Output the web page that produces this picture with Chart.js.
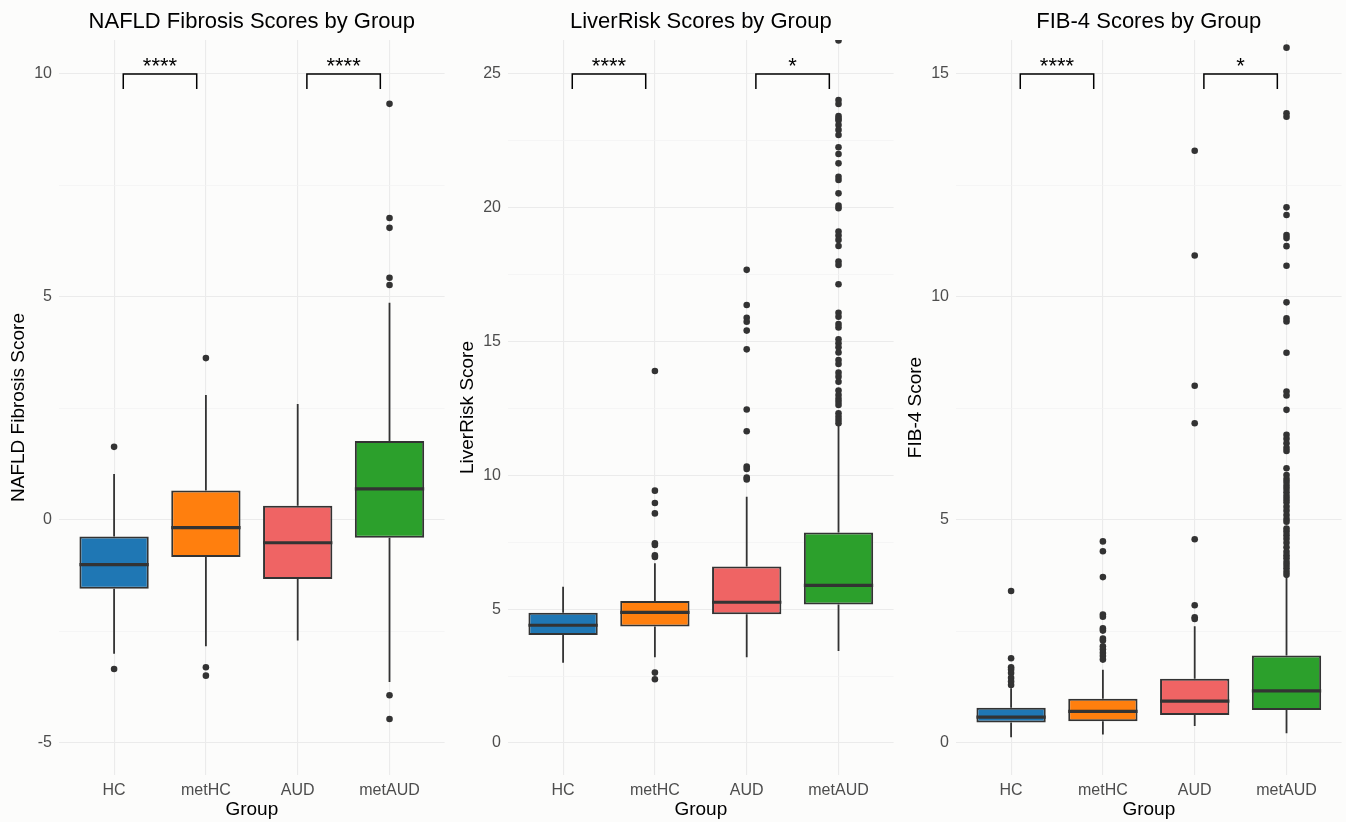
<!DOCTYPE html>
<html><head><meta charset="utf-8">
<script src="https://cdn.jsdelivr.net/npm/chart.js@4.4.1/dist/chart.umd.min.js"></script>
<style>
html,body{margin:0;padding:0;background:#FCFCFB;width:1346px;height:822px;overflow:hidden;}
canvas{position:absolute;top:0;}
</style></head><body>
<canvas id="c1" width="449" height="822" style="left:0px"></canvas>
<canvas id="c2" width="449" height="822" style="left:449px"></canvas>
<canvas id="c3" width="449" height="822" style="left:897px"></canvas>
<script>
// ---------- shared ----------
const groups = ['HC', 'metHC', 'AUD', 'metAUD'];
const groupColors = ['#1F77B4', '#FF7F0E', '#EF6464', '#2CA02C'];

// ---------- NAFLD Fibrosis ----------
const nafldLow  = [-3.00, -2.83, -2.70, -3.63];
const nafldQ1   = [-1.54, -0.83, -1.32, -0.40];
const nafldMed  = [-1.00, -0.17, -0.51, 0.70];
const nafldQ3   = [-0.37, 0.66, 0.32, 1.77];
const nafldHigh = [1.03, 2.80, 2.60, 4.87];
const nafldOut  = [
  [1.64, -3.34],
  [3.63, -3.30, -3.49],
  [],
  [9.33, 6.77, 6.55, 5.43, 5.27, -3.93, -4.46]
];
const nafldTicks = [-5, 0, 5, 10];
const nafldMinor = [-2.5, 2.5, 7.5];
const nafldBrackets = [{a: 0, b: 1, label: '****'}, {a: 2, b: 3, label: '****'}];
const nafldBracketY = 10;

// ---------- LiverRisk ----------
const lrLow  = [3.00, 3.20, 3.20, 3.44];
const lrQ1   = [4.04, 4.35, 4.81, 5.18];
const lrMed  = [4.40, 4.88, 5.26, 5.89];
const lrQ3   = [4.87, 5.31, 6.60, 7.87];
const lrHigh = [5.84, 6.72, 9.20, 11.85];
const lrOut  = [
  [],
  [13.90, 9.43, 8.97, 8.58, 7.46, 7.40, 7.01, 6.95, 2.63, 2.38],
  [17.68, 16.37, 15.89, 15.74, 15.41, 14.71, 12.46, 11.65, 10.33, 10.24, 9.92, 9.85],
  [26.25, 24.03, 23.88, 23.43, 23.34, 23.26, 23.09, 22.91, 22.72, 22.26, 22.01, 21.66,
   21.16, 21.04, 20.54, 20.08, 19.98, 19.11, 18.96, 18.80, 18.57, 17.99, 17.86, 17.14,
   16.08, 15.93, 15.66, 15.53, 15.09, 14.94, 14.79, 14.59, 14.31, 14.16, 13.84, 13.69,
   13.50, 13.17, 13.00, 12.86, 12.75, 12.63, 12.32, 12.19, 12.07, 11.95]
];
const lrTicks = [0, 5, 10, 15, 20, 25];
const lrMinor = [2.5, 7.5, 12.5, 17.5, 22.5];
const lrBrackets = [{a: 0, b: 1, label: '****'}, {a: 2, b: 3, label: '*'}];
const lrBracketY = 25;

// ---------- FIB-4 ----------
const fibLow  = [0.13, 0.19, 0.38, 0.22];
const fibQ1   = [0.46, 0.49, 0.63, 0.74];
const fibMed  = [0.58, 0.71, 0.94, 1.17];
const fibQ3   = [0.79, 0.99, 1.44, 1.96];
const fibHigh = [1.23, 1.64, 2.62, 3.72];
const fibOut  = [
  [3.41, 1.90, 1.70, 1.65, 1.57, 1.46, 1.38, 1.30],
  [4.52, 4.30, 3.72, 2.88, 2.83, 2.57, 2.52, 2.34, 2.30, 2.17, 2.10, 2.02, 1.95, 1.87],
  [13.28, 10.93, 8.01, 7.17, 4.57, 3.09, 2.82, 2.78],
  [15.59, 14.12, 14.04, 12.01, 11.84, 11.39, 11.32, 11.14, 10.70, 9.88, 9.52, 9.45,
   8.75, 7.88, 7.79, 7.47, 6.91, 6.82, 6.72, 6.62, 6.55, 6.16, 6.01, 5.92, 5.85, 5.77,
   5.70, 5.62, 5.54, 5.47, 5.40, 5.30, 5.21, 5.11, 5.02, 4.96, 4.81, 4.74, 4.66, 4.58,
   4.49, 4.39, 4.29, 4.21, 4.14, 4.06, 3.99, 3.92, 3.84, 3.77]
];
const fibTicks = [0, 5, 10, 15];
const fibMinor = [2.5, 7.5, 12.5];
const fibBrackets = [{a: 0, b: 1, label: '****'}, {a: 2, b: 3, label: '*'}];
const fibBracketY = 15;

// ---------- rendering ----------
Chart.defaults.font.family = "'Liberation Sans', Arial, Helvetica, sans-serif";
const INK = '#333333';

function makePlugin(st) {
  return {
    id: 'boxExtras',
    beforeDatasetsDraw(chart) {
      const {ctx, scales: {x, y}} = chart;
      ctx.save();
      ctx.strokeStyle = INK; ctx.lineWidth = 1.8;
      st.low.forEach((lo, i) => {
        const px = x.getPixelForValue(i + 1);
        ctx.beginPath();
        ctx.moveTo(px, y.getPixelForValue(lo)); ctx.lineTo(px, y.getPixelForValue(st.q1[i]));
        ctx.moveTo(px, y.getPixelForValue(st.q3[i])); ctx.lineTo(px, y.getPixelForValue(st.high[i]));
        ctx.stroke();
      });
      ctx.restore();
    },
    afterDatasetDraw(chart, args) {
      if (args.index !== 0) return;
      const {ctx, scales: {y}} = chart;
      const meta = chart.getDatasetMeta(0);
      ctx.save();
      ctx.strokeStyle = INK; ctx.lineWidth = 3.2;
      meta.data.forEach((bar, i) => {
        const p = bar.getProps(['x', 'width'], true);
        const py = y.getPixelForValue(st.med[i]);
        ctx.beginPath(); ctx.moveTo(p.x - p.width / 2, py); ctx.lineTo(p.x + p.width / 2, py); ctx.stroke();
      });
      ctx.restore();
    },
    afterDraw(chart) {
      const {ctx, scales: {x, y}} = chart;
      ctx.save();
      ctx.strokeStyle = '#000'; ctx.fillStyle = '#000'; ctx.lineWidth = 1.5;
      ctx.font = "22px 'Liberation Sans', Arial, sans-serif";
      ctx.textAlign = 'center'; ctx.textBaseline = 'alphabetic';
      const yp = y.getPixelForValue(st.bracketY);
      st.brackets.forEach(b => {
        const x1 = x.getPixelForValue(b.a + 1 + 0.1);
        const x2 = x.getPixelForValue(b.b + 1 - 0.1);
        ctx.beginPath();
        ctx.moveTo(x1, yp + 15); ctx.lineTo(x1, yp); ctx.lineTo(x2, yp); ctx.lineTo(x2, yp + 15);
        ctx.stroke();
        ctx.fillText(b.label, (x1 + x2) / 2, yp - 0.5);
      });
      ctx.restore();
    }
  };
}

function makePanel(id, title, yTitle, st) {
  const allTicks = st.ticks.concat(st.minor).sort((a, b) => a - b);
  const isMajor = v => st.ticks.includes(v);
  const W = 449;
  new Chart(document.getElementById(id), {
    type: 'bar',
    data: {
      datasets: [
        {
          type: 'bar',
          data: groups.map((g, i) => ({x: i + 1, y: [st.q1[i], st.q3[i]]})),
          backgroundColor: groupColors,
          borderColor: INK,
          borderWidth: 2,
          borderSkipped: false,
          barPercentage: 0.755,
          categoryPercentage: 1,
          order: 1
        },
        {
          type: 'scatter',
          data: st.out.flatMap((arr, i) => arr.map(v => ({x: i + 1, y: v}))),
          pointRadius: 3.3,
          pointHoverRadius: 3.3,
          backgroundColor: INK,
          borderWidth: 0,
          clip: 0,
          order: 2
        }
      ]
    },
    options: {
      responsive: false,
      animation: false,
      events: [],
      layout: {padding: {left: 0, right: W - 444.6, top: 0, bottom: 0}},
      plugins: {
        legend: {display: false},
        tooltip: {enabled: false},
        title: {
          display: true, text: title, fullSize: false, color: '#000',
          font: {size: 22, weight: 'normal'}, padding: {top: 9, bottom: 4.6}
        }
      },
      scales: {
        x: {
          type: 'linear', min: 0.4, max: 4.6, offset: false,
          afterBuildTicks: s => { s.ticks = groups.map((g, i) => ({value: i + 1})); },
          afterFit: s => { s.height = 47; },
          grid: {color: '#EBEBEB', lineWidth: 1.1, drawTicks: false, offset: false},
          border: {display: false},
          ticks: {
            callback: v => groups[Math.round(v) - 1],
            color: '#4D4D4D', font: {size: 16}, padding: 6, autoSkip: false, maxRotation: 0
          },
          title: {display: true, text: 'Group', color: '#000', font: {size: 19}, padding: {top: 0, bottom: 1}}
        },
        y: {
          type: 'linear', min: st.yMin, max: st.yMax,
          afterBuildTicks: s => { s.ticks = allTicks.map(v => ({value: v})); },
          afterFit: s => { s.width = 59; },
          grid: {
            color: c => isMajor(c.tick.value) ? '#EBEBEB' : '#F2F2F2',
            lineWidth: c => isMajor(c.tick.value) ? 1.1 : 0.7,
            drawTicks: false
          },
          border: {display: false},
          ticks: {
            callback: v => isMajor(v) ? String(v) : '',
            color: '#4D4D4D', font: {size: 16}, padding: 7
          },
          title: {display: true, text: yTitle, color: '#000', font: {size: 19}, padding: {top: 7, bottom: 0}}
        }
      }
    },
    plugins: [makePlugin(st)]
  });
}

makePanel('c1', 'NAFLD Fibrosis Scores by Group', 'NAFLD Fibrosis Score', {
  low: nafldLow, q1: nafldQ1, med: nafldMed, q3: nafldQ3, high: nafldHigh, out: nafldOut,
  ticks: nafldTicks, minor: nafldMinor, brackets: nafldBrackets, bracketY: nafldBracketY,
  yMin: -5.717, yMax: 10.762
});
makePanel('c2', 'LiverRisk Scores by Group', 'LiverRisk Score', {
  low: lrLow, q1: lrQ1, med: lrMed, q3: lrQ3, high: lrHigh, out: lrOut,
  ticks: lrTicks, minor: lrMinor, brackets: lrBrackets, bracketY: lrBracketY,
  yMin: -1.196, yMax: 26.27
});
makePanel('c3', 'FIB-4 Scores by Group', 'FIB-4 Score', {
  low: fibLow, q1: fibQ1, med: fibMed, q3: fibQ3, high: fibHigh, out: fibOut,
  ticks: fibTicks, minor: fibMinor, brackets: fibBrackets, bracketY: fibBracketY,
  yMin: -0.717, yMax: 15.762
});
</script>
</body></html>
